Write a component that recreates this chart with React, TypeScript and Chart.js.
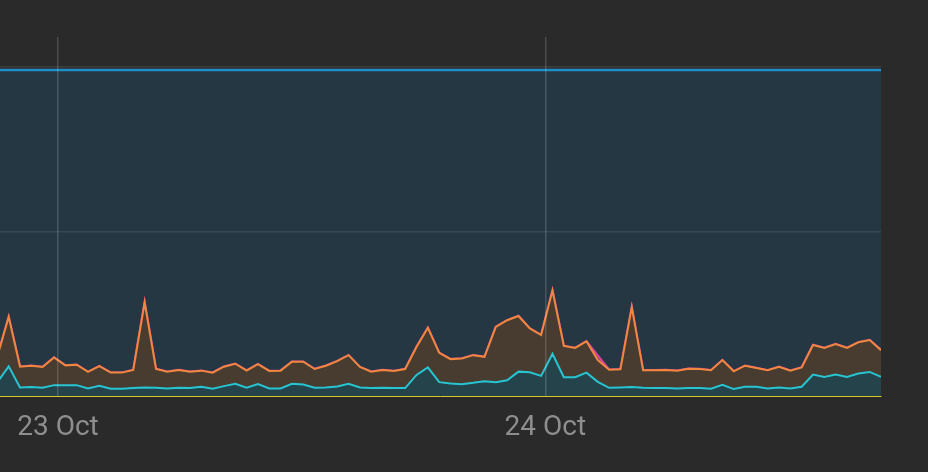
import React, { useEffect, useRef } from 'react';
import { Chart, registerables } from 'chart.js';

Chart.register(...registerables);

// Sample index runs 0..78; the visible window starts slightly after sample 0.
const orangeValues = [
  12.1, 24.0, 8.9, 9.2, 8.8, 11.7, 9.3, 9.5, 7.3, 9.1,
  7.1, 7.1, 7.9, 28.4, 8.2, 7.4, 7.9, 7.4, 7.7, 7.1,
  8.9, 9.8, 7.7, 9.7, 7.6, 7.7, 10.4, 10.4, 8.2, 9.2,
  10.6, 12.4, 8.8, 7.4, 7.9, 7.6, 8.2, 14.9, 20.7, 13.1,
  11.2, 11.4, 12.4, 11.9, 21.0, 23.0, 24.3, 20.5, 18.5, 32.0,
  15.2, 14.6, 16.6, 10.9, 8.0, 8.1, 26.9, 7.8, 7.8, 7.9,
  7.7, 8.3, 8.2, 7.8, 10.9, 7.5, 9.2, 8.5, 7.8, 8.9,
  7.7, 8.7, 15.5, 14.6, 15.8, 14.6, 16.3, 17.0, 13.9,
];

const magentaValues = [
  12.1, 24.0, 8.9, 9.2, 8.8, 11.7, 9.3, 9.5, 7.3, 9.1,
  7.1, 7.1, 7.9, 28.4, 8.2, 7.4, 7.9, 7.4, 7.7, 7.1,
  8.9, 9.8, 7.7, 9.7, 7.6, 7.7, 10.4, 10.4, 8.2, 9.2,
  10.6, 12.4, 8.8, 7.4, 7.9, 7.6, 8.2, 14.9, 20.7, 13.1,
  11.2, 11.4, 12.4, 11.9, 21.0, 23.0, 24.3, 20.5, 18.5, 32.0,
  15.2, 14.6, 16.6, 12.2, 8.0, 8.1, 26.9, 7.8, 7.8, 7.9,
  7.7, 8.3, 8.2, 7.8, 10.9, 7.5, 9.2, 8.5, 7.8, 8.9,
  7.7, 8.7, 15.5, 14.6, 15.8, 14.6, 16.3, 17.0, 13.9,
];

const cyanValues = [
  4.2, 9.0, 2.6, 2.7, 2.5, 3.3, 3.3, 3.3, 2.3, 3.1,
  2.2, 2.2, 2.4, 2.6, 2.5, 2.3, 2.5, 2.4, 2.8, 2.2,
  3.0, 3.7, 2.5, 3.6, 2.3, 2.3, 3.7, 3.5, 2.5, 2.6,
  2.9, 3.7, 2.6, 2.4, 2.5, 2.4, 2.4, 6.4, 8.7, 4.2,
  3.8, 3.6, 4.0, 4.5, 4.2, 4.8, 7.4, 7.2, 6.1, 12.8,
  5.7, 5.7, 7.1, 4.3, 2.5, 2.6, 2.7, 2.5, 2.4, 2.4,
  2.3, 2.4, 2.4, 2.2, 3.4, 2.1, 2.8, 2.8, 2.3, 2.6,
  2.3, 2.8, 6.5, 5.8, 6.5, 5.8, 6.8, 7.3, 5.8,
];

const thresholdValue = 99;
const xMin = 0.232;
const xTickValues = [5.35, 48.37];
const xTickLabels = ['23 Oct', '24 Oct'];
const yGridValues = [50, 100];
const yMax = 109;

export default function App() {
  const ref = useRef<HTMLCanvasElement>(null);

  useEffect(() => {
    if (!ref.current) return;
    const toPoints = (vals: number[]) => vals.map((y, i) => ({ x: i, y }));
    const lastX = orangeValues.length - 1;
    const chart = new Chart(ref.current, {
      type: 'line',
      data: {
        datasets: [
          {
            data: toPoints(cyanValues),
            borderColor: '#27c5d2',
            backgroundColor: '#24434a',
            fill: 'origin',
            borderWidth: 2,
            pointRadius: 0,
            order: 0,
          },
          {
            data: toPoints(orangeValues),
            borderColor: '#f1873e',
            backgroundColor: '#483b30',
            fill: 'origin',
            borderWidth: 2,
            pointRadius: 0,
            order: 1,
          },
          {
            data: toPoints(magentaValues),
            borderColor: '#d8439c',
            fill: false,
            borderWidth: 2.4,
            pointRadius: 0,
            order: 2,
          },
          {
            data: [
              { x: xMin, y: thresholdValue },
              { x: lastX, y: thresholdValue },
            ],
            borderColor: '#1e8fc8',
            backgroundColor: '#243743',
            fill: 'origin',
            borderWidth: 2.6,
            pointRadius: 0,
            order: 3,
          },
        ],
      },
      options: {
        animation: false,
        responsive: false,
        events: [],
        layout: { padding: { top: 37, right: 47, left: 0, bottom: 0 } },
        plugins: { legend: { display: false }, tooltip: { enabled: false } },
        elements: { line: { tension: 0 } },
        scales: {
          x: {
            type: 'linear',
            min: xMin,
            max: lastX,
            afterBuildTicks: (s: any) => {
              s.ticks = xTickValues.map((v) => ({ value: v }));
            },
            afterFit: (s: any) => {
              s.height = 76;
            },
            grid: { color: 'rgba(255,255,255,0.16)', drawTicks: false, lineWidth: 1.5, z: 1 },
            border: { display: true, color: '#d8c62c', width: 1, z: 2 },
            ticks: {
              callback: (_v: any, i: number) => xTickLabels[i],
              color: '#8e8e8e',
              font: { family: 'Roboto', size: 28 },
              padding: 15,
              maxRotation: 0,
              autoSkip: false,
            },
          },
          y: {
            min: 0,
            max: yMax,
            afterBuildTicks: (s: any) => {
              s.ticks = yGridValues.map((v) => ({ value: v }));
            },
            afterFit: (s: any) => {
              s.width = 0;
            },
            grid: { color: 'rgba(255,255,255,0.09)', drawTicks: false, lineWidth: 1.5, z: 1 },
            border: { display: false },
            ticks: { display: false },
          },
        },
      },
    } as any);
    return () => chart.destroy();
  }, []);

  return (
    <div
      style={{
        position: 'fixed',
        left: 0,
        top: 0,
        width: 928,
        height: 472,
        background: '#2a2a2a',
      }}
    >
      <canvas ref={ref} width={928} height={472} style={{ display: 'block' }} />
    </div>
  );
}
